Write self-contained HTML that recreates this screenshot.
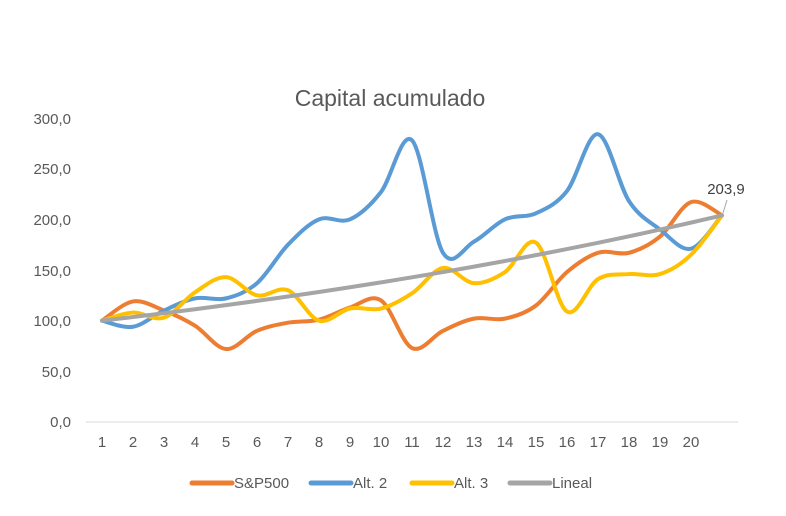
<!DOCTYPE html>
<html><head><meta charset="utf-8"><style>
body{margin:0;background:#fff;}
svg{display:block;font-family:"Liberation Sans",sans-serif;}
</style></head><body>
<svg id="c" width="786" height="516" viewBox="0 0 786 516">
<rect width="786" height="516" fill="#fff"/>
<text x="390" y="106" text-anchor="middle" font-size="23" fill="#595959">Capital acumulado</text>
<g font-size="15" fill="#595959" text-anchor="end">
<text x="71" y="124">300,0</text>
<text x="71" y="174">250,0</text>
<text x="71" y="225">200,0</text>
<text x="71" y="276">150,0</text>
<text x="71" y="326">100,0</text>
<text x="71" y="377">50,0</text>
<text x="71" y="427">0,0</text>
</g>
<line x1="86" y1="422" x2="738" y2="422" stroke="#d9d9d9" stroke-width="1"/>
<g id="xl" font-size="15" fill="#595959" text-anchor="middle"></g>
<g id="series" fill="none" stroke-linecap="round" stroke-linejoin="round"></g>
<line x1="727" y1="200" x2="723" y2="213" stroke="#a6a6a6" stroke-width="1"/>
<text x="726" y="194" text-anchor="middle" font-size="15" fill="#404040">203,9</text>
<g font-size="15" fill="#595959">
<line x1="192" y1="483" x2="232" y2="483" stroke="#ed7d31" stroke-width="5" stroke-linecap="round"/>
<text x="234" y="488">S&amp;P500</text>
<line x1="311" y1="483" x2="351" y2="483" stroke="#5b9bd5" stroke-width="5" stroke-linecap="round"/>
<text x="353" y="488">Alt. 2</text>
<line x1="412" y1="483" x2="452" y2="483" stroke="#ffc000" stroke-width="5" stroke-linecap="round"/>
<text x="454" y="488">Alt. 3</text>
<line x1="510" y1="483" x2="550" y2="483" stroke="#a5a5a5" stroke-width="5" stroke-linecap="round"/>
<text x="552" y="488">Lineal</text>
</g>
</svg>
<script>
var X=function(i){return 102+i*31;},Y=function(v){return 422-v*1.0133;};
var xl=document.getElementById('xl'),s='';
for(var i=1;i<=20;i++)s+='<text x="'+X(i-1)+'" y="447">'+i+'</text>';
xl.innerHTML=s;
var lin=[];for(var i=0;i<21;i++)lin.push(100*Math.pow(2.039,i/20));
var data=[
['#ed7d31',[100,119,110,95,72,90,98,101,113,120,73,90,102,102,115,148,167,167,183,217,204]],
['#5b9bd5',[100,94,110,122,122,137,175,200,200,227,278,167,178,200,206,228,284,218,190,171,204]],
['#ffc000',[100,108,103,128,143,125,130,100,112,112,127,152,137,148,177,109,141,146,146,165,204]],
['#a5a5a5',lin]];
function path(v){var p=v.map(function(a,i){return[X(i),Y(a)]});var d='M'+p[0][0]+','+p[0][1];
for(var i=0;i<p.length-1;i++){var p0=p[i-1]||p[i],p1=p[i],p2=p[i+1],p3=p[i+2]||p2,t=6;
d+=' C'+(p1[0]+(p2[0]-p0[0])/t)+','+(p1[1]+(p2[1]-p0[1])/t)+' '+(p2[0]-(p3[0]-p1[0])/t)+','+(p2[1]-(p3[1]-p1[1])/t)+' '+p2[0]+','+p2[1];}
return d;}
var g=document.getElementById('series'),h='';
data.forEach(function(d){h+='<path d="'+path(d[1])+'" stroke="'+d[0]+'" stroke-width="4"/>';});
g.innerHTML=h;
</script>
</body></html>
